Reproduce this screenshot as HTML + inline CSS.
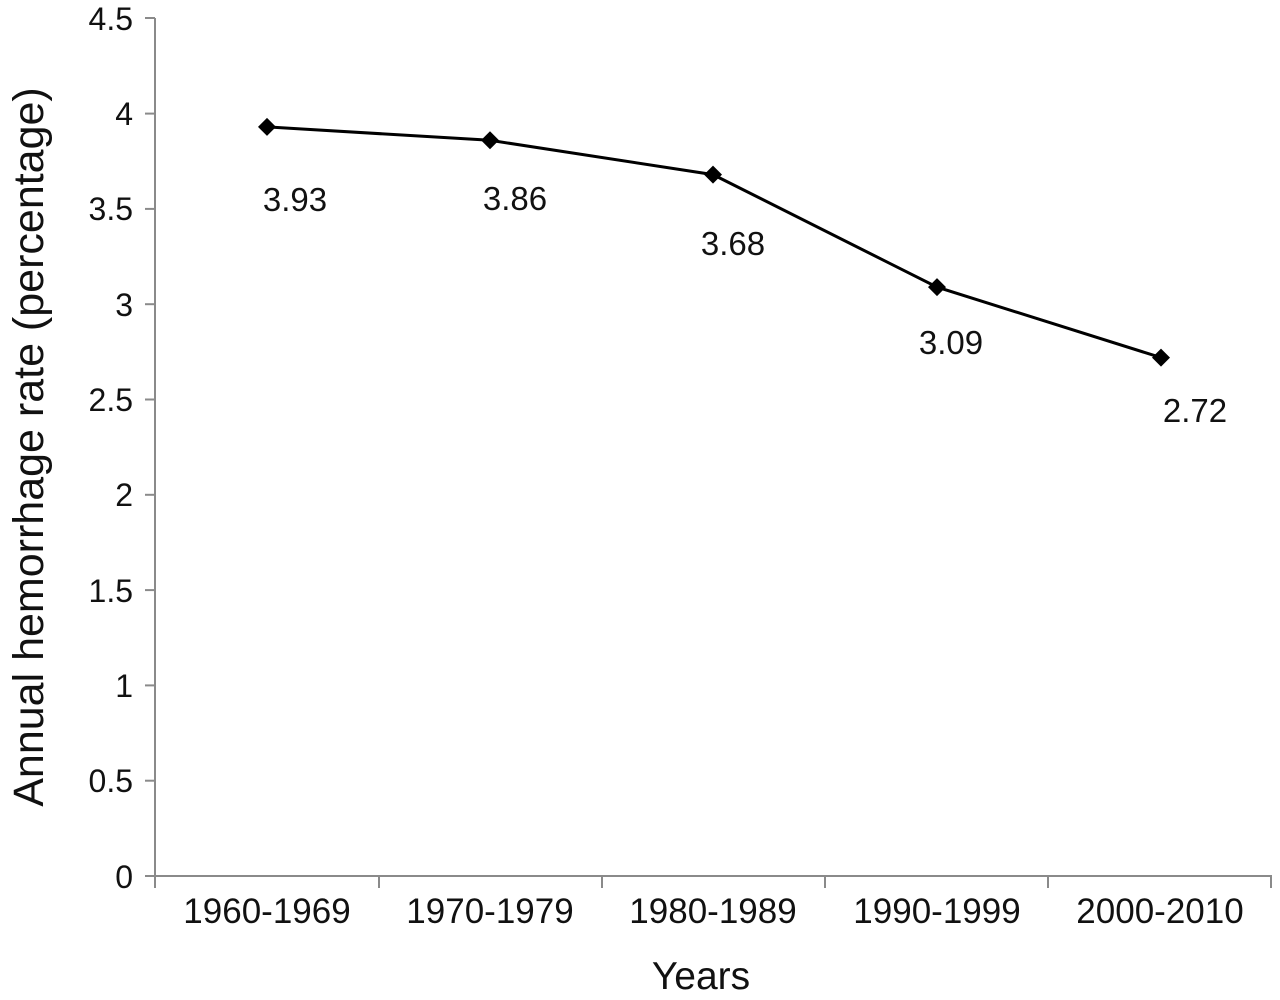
<!DOCTYPE html>
<html><head><style>body{margin:0;background:#fff}</style></head><body>
<svg width="1280" height="995" xmlns="http://www.w3.org/2000/svg" font-family="Liberation Sans, Arial, sans-serif">
<g stroke="#8a8a8a" stroke-width="2">
<line x1="155" y1="18" x2="155" y2="888"/>
<line x1="145" y1="876" x2="1272" y2="876"/>
<line x1="145" y1="18" x2="155" y2="18"/><line x1="145" y1="113.6" x2="155" y2="113.6"/><line x1="145" y1="208.9" x2="155" y2="208.9"/><line x1="145" y1="304.2" x2="155" y2="304.2"/><line x1="145" y1="399.5" x2="155" y2="399.5"/><line x1="145" y1="494.8" x2="155" y2="494.8"/><line x1="145" y1="590.1" x2="155" y2="590.1"/><line x1="145" y1="685.4" x2="155" y2="685.4"/><line x1="145" y1="780.7" x2="155" y2="780.7"/>
<line x1="379" y1="876" x2="379" y2="888"/><line x1="602" y1="876" x2="602" y2="888"/><line x1="825" y1="876" x2="825" y2="888"/><line x1="1048" y1="876" x2="1048" y2="888"/><line x1="1271" y1="876" x2="1271" y2="888"/>
</g>
<g style="font-size:32px" text-anchor="end" fill="#111">
<text x="133" y="30">4.5</text><text x="133" y="125">4</text><text x="133" y="220">3.5</text><text x="133" y="316">3</text><text x="133" y="411">2.5</text><text x="133" y="506">2</text><text x="133" y="602">1.5</text><text x="133" y="697">1</text><text x="133" y="792">0.5</text><text x="133" y="888">0</text>
</g>
<g text-anchor="middle" fill="#111">
<g style="font-size:35px">
<text x="267" y="923">1960-1969</text><text x="490" y="923">1970-1979</text><text x="713" y="923">1980-1989</text><text x="937" y="923">1990-1999</text><text x="1160" y="923">2000-2010</text>
</g>
<text x="701" y="989" style="font-size:39px">Years</text>
<text transform="translate(43,447) rotate(-90)" style="font-size:43px">Annual hemorrhage rate (percentage)</text>
<g style="font-size:33px">
<text x="295" y="211">3.93</text><text x="515" y="210">3.86</text><text x="733" y="255">3.68</text><text x="951" y="354">3.09</text><text x="1195" y="422">2.72</text>
</g>
</g>
<polyline fill="none" stroke="#000" stroke-width="3" points="267,126.9 490,140.3 713,174.6 937,287.1 1161,357.6"/>
<g fill="#000">
<path d="M267,117.9 l9,9 -9,9 -9,-9z"/><path d="M490,131.3 l9,9 -9,9 -9,-9z"/><path d="M713,165.6 l9,9 -9,9 -9,-9z"/><path d="M937,278.1 l9,9 -9,9 -9,-9z"/><path d="M1161,348.6 l9,9 -9,9 -9,-9z"/>
</g>
</svg>
</body></html>
